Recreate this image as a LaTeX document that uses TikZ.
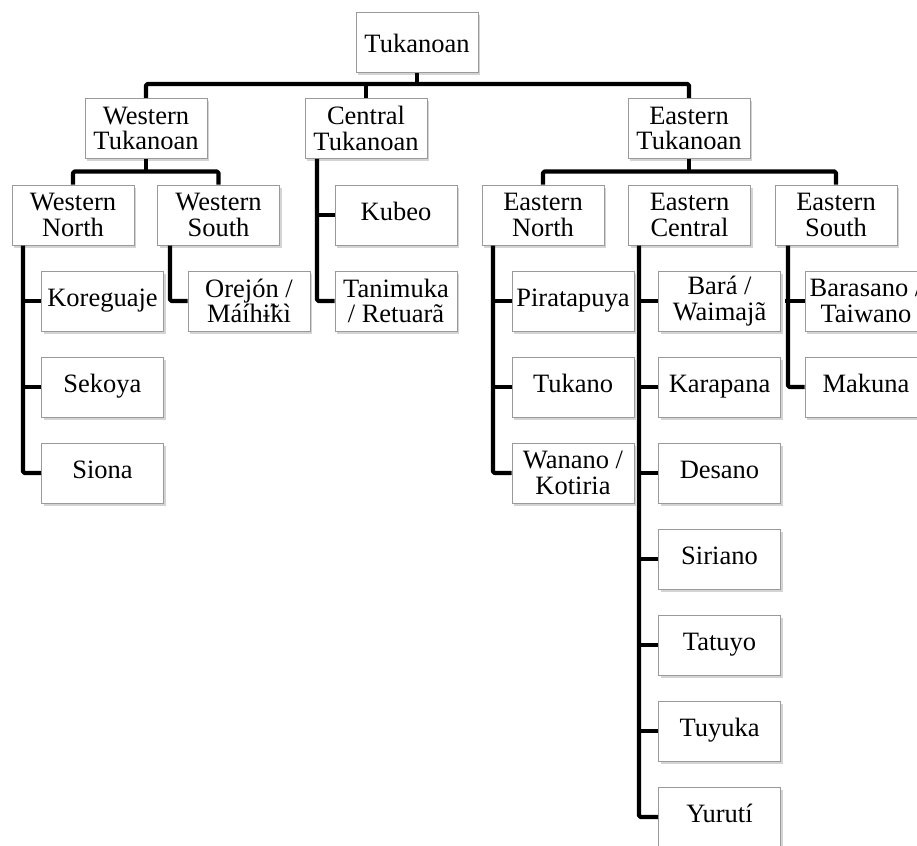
\documentclass[tikz,border=0pt]{standalone}
\usepackage{fontspec}
\setmainfont{Liberation Serif}
\usetikzlibrary{shadows}
\definecolor{boxborder}{HTML}{9A9A9A}
\tikzset{
  box/.style={draw=boxborder, line width=1pt, fill=white, minimum width=122pt, minimum height=60pt,
    inner sep=0pt, align=center, font=\fontsize{26.5}{25.5}\selectfont,
    drop shadow={shadow xshift=2pt, shadow yshift=-2.5pt, opacity=0.28, fill=black!60}},
  conn/.style={line width=4.2pt, draw=black, line join=round, line cap=butt, rounded corners=1.5pt}
}
\begin{document}
\begin{tikzpicture}[x=1pt,y=-1pt]
\useasboundingbox (0,0) rectangle (917,845);
\clip (0,0) rectangle (917,845);
% level 0
\node[box] (T) at (417,43) {Tukanoan};
% level 1
\node[box] (WT) at (146,128.5) {Western\\Tukanoan};
\node[box] (CT) at (366,128.5) {Central\\Tukanoan};
\node[box] (ET) at (689,128.5) {Eastern\\Tukanoan};
% level 2
\node[box] (WN) at (73,215) {Western\\North};
\node[box] (WS) at (218.5,215) {Western\\South};
\node[box] (Kub) at (396,215) {Kubeo\strut};
\node[box] (EN) at (543,215) {Eastern\\North};
\node[box] (EC) at (689.5,215) {Eastern\\Central};
\node[box] (ES) at (836,215) {Eastern\\South};
% leaves
\node[box] (Kor) at (102.5,301) {Koreguaje\strut};
\node[box] (Sek) at (102.5,387) {Sekoya\strut};
\node[box] (Sio) at (102.5,473) {Siona\strut};
\node[box] (Ore) at (249,301) {Orejón /\\Máíhɨ̃kì};
\node[box] (Tan) at (396,301) {Tanimuka\\/ Retuarã};
\node[box] (Pir) at (573,301) {Piratapuya\strut};
\node[box] (Tuk) at (573,387) {Tukano\strut};
\node[box] (Wan) at (573,473) {Wanano /\\Kotiria};
\node[box] (Bar) at (719.5,301) {Bará /\\Waimajã};
\node[box] (Kar) at (719.5,387) {Karapana\strut};
\node[box] (Des) at (719.5,473) {Desano\strut};
\node[box] (Sir) at (719.5,559) {Siriano\strut};
\node[box] (Tat) at (719.5,645) {Tatuyo\strut};
\node[box] (Tuy) at (719.5,731) {Tuyuka\strut};
\node[box] (Yur) at (719.5,817) {Yurutí\strut};
\node[box] (Bsn) at (866,301) {Barasano /\\Taiwano};
\node[box] (Mak) at (866,387) {Makuna\strut};
% connectors: top level
\draw[conn] (WT.north) -- ++(0,-14) -| (ET.north);
\draw[conn] (T.south) -- ++(0,12);
\draw[conn] (CT.north) -- ++(0,-14);
% western
\draw[conn] (WN.north) -- ++(0,-13) -| (WS.north);
\draw[conn] (WT.south) -- ++(0,14);
% eastern
\draw[conn] (EN.north) -- ++(0,-13) -| (ES.north);
\draw[conn] (ET.south) -- ++(0,14);
% trunks
\draw[conn] ([xshift=-50pt]WN.south) |- (Sio.west);
\draw[conn] (Kor.west) -- ++(-20,0);
\draw[conn] (Sek.west) -- ++(-20,0);
\draw[conn] ([xshift=-48.5pt]WS.south) |- (Ore.west);
\draw[conn] ([xshift=-49pt]CT.south) |- (Tan.west);
\draw[conn] (Kub.west) -- ++(-20,0);
\draw[conn] ([xshift=-50pt]EN.south) |- (Wan.west);
\draw[conn] (Pir.west) -- ++(-20,0);
\draw[conn] (Tuk.west) -- ++(-20,0);
\draw[conn] ([xshift=-50.5pt]EC.south) |- (Yur.west);
\draw[conn] (Bar.west) -- ++(-20,0);
\draw[conn] (Kar.west) -- ++(-20,0);
\draw[conn] (Des.west) -- ++(-20,0);
\draw[conn] (Sir.west) -- ++(-20,0);
\draw[conn] (Tat.west) -- ++(-20,0);
\draw[conn] (Tuy.west) -- ++(-20,0);
\draw[conn] ([xshift=-48pt]ES.south) |- (Mak.west);
\draw[conn] (Bsn.west) -- ++(-20,0);
\end{tikzpicture}
\end{document}
